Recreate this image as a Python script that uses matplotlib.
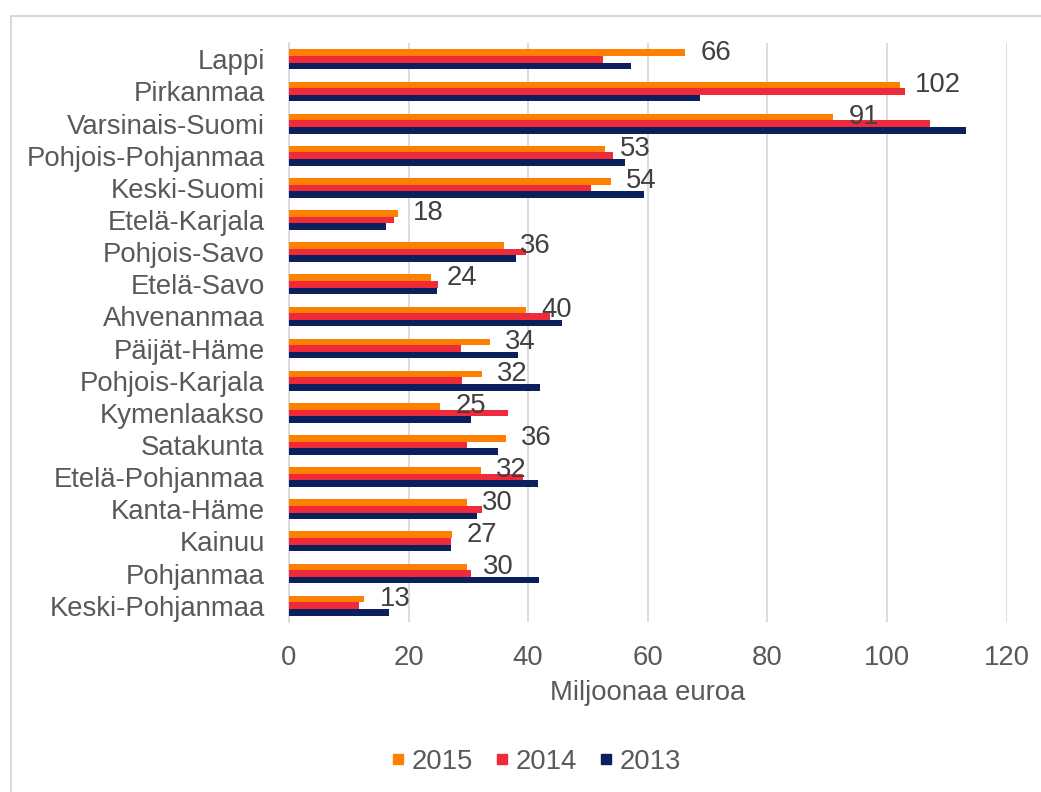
import matplotlib.pyplot as plt
import matplotlib.patches as mpatches
from matplotlib.lines import Line2D
import numpy as np

plt.rcParams['font.family'] = ['Liberation Sans', 'DejaVu Sans']

regions = ['Lappi', 'Pirkanmaa', 'Varsinais-Suomi', 'Pohjois-Pohjanmaa', 'Keski-Suomi',
           'Etelä-Karjala', 'Pohjois-Savo', 'Etelä-Savo', 'Ahvenanmaa', 'Päijät-Häme',
           'Pohjois-Karjala', 'Kymenlaakso', 'Satakunta', 'Etelä-Pohjanmaa', 'Kanta-Häme',
           'Kainuu', 'Pohjanmaa', 'Keski-Pohjanmaa']
v2015 = [66.3, 102.2, 91.0, 52.8, 53.8, 18.2, 36.0, 23.8, 39.6, 33.6,
         32.3, 25.3, 36.3, 32.1, 29.7, 27.2, 29.8, 12.6]
v2014 = [52.5, 103.1, 107.2, 54.2, 50.5, 17.5, 39.7, 25.0, 43.7, 28.8,
         28.9, 36.6, 29.8, 39.1, 32.2, 27.1, 30.5, 11.7]
v2013 = [57.2, 68.8, 113.3, 56.2, 59.4, 16.2, 37.9, 24.8, 45.7, 38.3,
         42.0, 30.5, 35.0, 41.7, 31.5, 27.1, 41.8, 16.8]
years = ['2015', '2014', '2013']
colors = ['#FF8000', '#EE2A3B', '#0A1F5C']

FS = 19.8
TXT = '#595959'

fig = plt.figure(figsize=(10.41, 7.92), dpi=100)
ax = fig.add_axes([289 / 1041, 1 - 621.7 / 792, (1006.5 - 289) / 1041, (621.7 - 43.3) / 792])

y = np.arange(len(regions))
h = 0.206
series = [v2015, v2014, v2013]
for i, (vals, col) in enumerate(zip(series, colors)):
    ax.barh(y + (i - 1) * h, vals, height=h, color=col, zorder=3)

# data labels on the 2015 bars
for yi, v in zip(y, v2015):
    ax.annotate(f'{round(v)}', (v, yi - h), xytext=(11, 0), textcoords='offset points',
                va='center', ha='left', fontsize=FS, color='#404040', zorder=4)

ax.set_xlim(0, 120)
ax.set_ylim(len(regions) - 0.5, -0.5)
ax.set_xticks(range(0, 121, 20))
ax.set_yticks(y)
ax.set_yticklabels(regions)
ax.tick_params(axis='y', length=0, pad=17.5, labelsize=FS, labelcolor=TXT)
ax.tick_params(axis='x', length=0, pad=16.5, labelsize=FS, labelcolor=TXT)
ax.grid(axis='x', color='#D9D9D9', linewidth=1.3, zorder=0)
for s in ['top', 'right', 'bottom']:
    ax.spines[s].set_visible(False)
ax.spines['left'].set_color('#D9D9D9')
ax.spines['left'].set_linewidth(1.3)

fig.text(648 / 1041, 1 - 693 / 792, 'Miljoonaa euroa', ha='center', va='center',
         fontsize=FS, color=TXT)

handles = [Line2D([], [], marker='s', linestyle='None', markersize=7.2,
                  markerfacecolor=c, markeredgecolor=c, label=l)
           for c, l in zip(colors, years)]
fig.legend(handles=handles, loc='center', bbox_to_anchor=(537 / 1041, 1 - 762 / 792),
           ncol=3, frameon=False, fontsize=FS, labelcolor=TXT,
           handlelength=0.4, handletextpad=0.3, columnspacing=0.85)

# chart border (only left and top are inside the image)
fig.patches.append(mpatches.Rectangle((11 / 1041, -0.05), 1.2, 1 - 16 / 792 + 0.05,
                                      transform=fig.transFigure, fill=False,
                                      edgecolor='#D9D9D9', linewidth=1.5))

fig.savefig('out.png', dpi=100)
